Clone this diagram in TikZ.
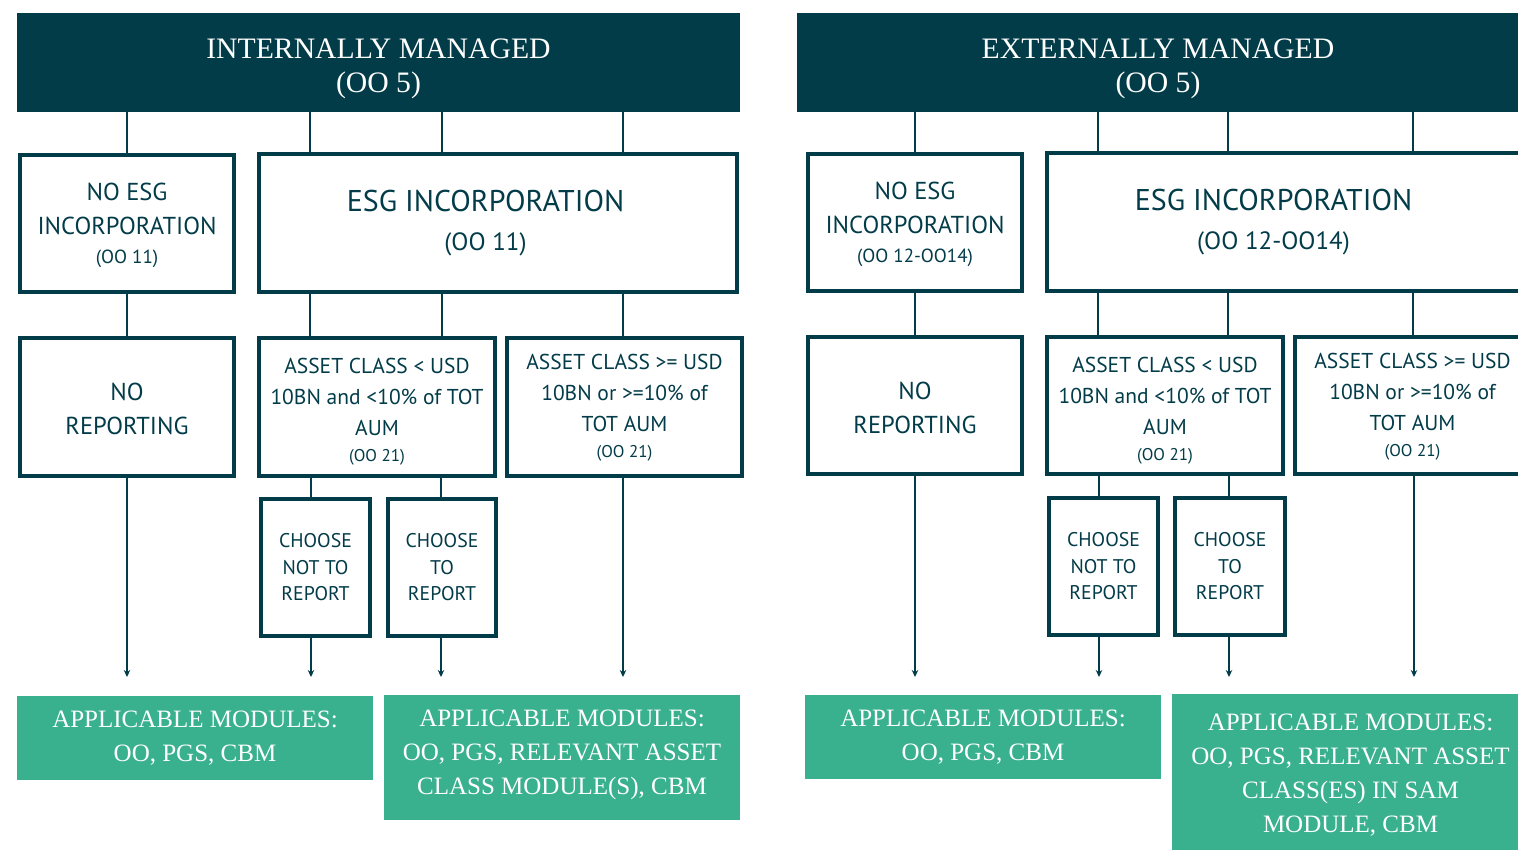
\documentclass[tikz,border=0pt]{standalone}
\usepackage{fontspec}
\setmainfont{Liberation Serif}
\newfontfamily\bxfont{PT Sans}
\usetikzlibrary{arrows.meta}
\definecolor{navy}{HTML}{033C49}
\definecolor{mint}{HTML}{3AB18E}
\newcommand\smalltxt[1]{{\fontsize{17}{27}\selectfont #1}}
\newcommand\midtxt[1]{{\fontsize{19}{27}\selectfont #1}}
\newcommand\esgsub[1]{{\fontsize{25}{39}\selectfont #1}}
\begin{document}
\begin{tikzpicture}[x=1pt,y=-1pt,
 hdr/.style={fill=navy, inner sep=0pt},
 hdrtxt/.style={text=white, inner sep=0pt, align=center, font=\fontsize{29.7}{34}\selectfont},
 box/.style={draw=navy, line width=4pt, fill=white, inner sep=0pt},
 boxtxt/.style={text=navy, inner sep=0pt, align=center, font=\bxfont\fontsize{24.5}{34}\selectfont},
 bigtxt/.style={boxtxt, font=\bxfont\fontsize{30}{39}\selectfont},
 asttxt/.style={boxtxt, font=\bxfont\fontsize{21.5}{31}\selectfont},
 chtxt/.style={boxtxt, font=\bxfont\fontsize{19.8}{26.5}\selectfont},
 grn/.style={fill=mint, inner sep=0pt},
 grntxt/.style={text=white, inner sep=0pt, align=center, font=\fontsize{25}{34}\selectfont},
 conn/.style={draw=navy, line width=1.8pt},
 arr/.style={conn, -{Stealth[length=7pt,width=6.5pt]}}
]
\useasboundingbox (0,0) rectangle (1518,850);

% ---------- LEFT: INTERNALLY MANAGED ----------
\node[hdr, minimum width=723, minimum height=99, label={[hdrtxt,yshift=-6pt]center:INTERNALLY MANAGED\\(OO 5)}] (hdrL) at (378.5,62.5) {};
\node[box, minimum width=214, minimum height=137, label={[boxtxt,yshift=-1.5pt]center:NO ESG\\INCORPORATION\\[-5pt]\midtxt{(OO 11)}}] (noesgL) at (127,223.5) {};
\node[box, minimum width=478, minimum height=138, label={[bigtxt,xshift=-12.5pt]center:ESG INCORPORATION\\\esgsub{(OO 11)}}] (esgL) at (498,223) {};
\node[box, minimum width=214, minimum height=138, label={[boxtxt,yshift=-2pt]center:NO\\REPORTING}] (norepL) at (127,407) {};
\node[box, minimum width=236, minimum height=138, label={[asttxt,yshift=-5pt]center:ASSET CLASS < USD\\10BN and <10\% of TOT\\AUM\\[-5pt]\smalltxt{(OO 21)}}] (ltL) at (377,407) {};
\node[box, minimum width=235, minimum height=138, label={[asttxt,yshift=-1pt]center:ASSET CLASS >= USD\\10BN or >=10\% of\\TOT AUM\\[-5pt]\smalltxt{(OO 21)}}] (geL) at (624.5,407) {};
\node[box, minimum width=109, minimum height=137, label={[chtxt]center:CHOOSE\\NOT TO\\REPORT}] (cnL) at (315.5,567.5) {};
\node[box, minimum width=108, minimum height=137, label={[chtxt]center:CHOOSE\\TO\\REPORT}] (ctL) at (442,567.5) {};
\node[grn, minimum width=356, minimum height=84, label={[grntxt]center:APPLICABLE MODULES:\\OO, PGS, CBM}] (gaL) at (195,738) {};
\node[grn, minimum width=356, minimum height=125, label={[grntxt,yshift=3pt]center:APPLICABLE MODULES:\\OO, PGS, RELEVANT ASSET\\CLASS MODULE(S), CBM}] (gbL) at (562,757.5) {};

\coordinate (eL1) at (127,677);
\coordinate (eL2) at (311,677);
\coordinate (eL3) at (441,677);
\coordinate (eL4) at (623,677);

\draw[conn] (hdrL.south -| noesgL.north) -- (noesgL.north);
\draw[conn] (hdrL.south -| 310,0) -- (esgL.north -| 310,0);
\draw[conn] (hdrL.south -| 442,0) -- (esgL.north -| 442,0);
\draw[conn] (hdrL.south -| 623,0) -- (esgL.north -| 623,0);
\draw[conn] (noesgL.south) -- (norepL.north);
\draw[conn] (esgL.south -| 310,0) -- (ltL.north -| 310,0);
\draw[conn] (esgL.south -| 442,0) -- (ltL.north -| 442,0);
\draw[conn] (esgL.south -| 623,0) -- (geL.north -| 623,0);
\draw[conn] (ltL.south -| 311,0) -- (cnL.north -| 311,0);
\draw[conn] (ltL.south -| 441,0) -- (ctL.north -| 441,0);
\draw[arr] (norepL.south) -- (eL1);
\draw[arr] (cnL.south -| eL2) -- (eL2);
\draw[arr] (ctL.south -| eL3) -- (eL3);
\draw[arr] (geL.south -| eL4) -- (eL4);

% ---------- RIGHT: EXTERNALLY MANAGED ----------
\node[hdr, minimum width=722, minimum height=99, label={[hdrtxt,yshift=-6pt]center:EXTERNALLY MANAGED\\(OO 5)}] (hdrR) at (1158,62.5) {};
\node[box, minimum width=214, minimum height=137, label={[boxtxt,yshift=-1.5pt]center:NO ESG\\INCORPORATION\\[-5pt]\midtxt{(OO 12-OO14)}}] (noesgR) at (915,222.5) {};
\node[box, minimum width=478, minimum height=138, label={[bigtxt,xshift=-12.5pt]center:ESG INCORPORATION\\\esgsub{(OO 12-OO14)}}] (esgR) at (1286,222) {};
\node[box, minimum width=214, minimum height=137, label={[boxtxt,yshift=-2pt]center:NO\\REPORTING}] (norepR) at (915,405.5) {};
\node[box, minimum width=236, minimum height=137, label={[asttxt,yshift=-5pt]center:ASSET CLASS < USD\\10BN and <10\% of TOT\\AUM\\[-5pt]\smalltxt{(OO 21)}}] (ltR) at (1165,405.5) {};
\node[box, minimum width=235, minimum height=137, label={[asttxt,yshift=-1pt]center:ASSET CLASS >= USD\\10BN or >=10\% of\\TOT AUM\\[-5pt]\smalltxt{(OO 21)}}] (geR) at (1412.5,405.5) {};
\node[box, minimum width=109, minimum height=137, label={[chtxt]center:CHOOSE\\NOT TO\\REPORT}] (cnR) at (1103.5,566.5) {};
\node[box, minimum width=110, minimum height=137, label={[chtxt]center:CHOOSE\\TO\\REPORT}] (ctR) at (1230,566.5) {};
\node[grn, minimum width=356, minimum height=84, label={[grntxt]center:APPLICABLE MODULES:\\OO, PGS, CBM}] (gaR) at (983,737) {};
\node[grn, minimum width=357, minimum height=156, label={[grntxt,yshift=-3pt]center:APPLICABLE MODULES:\\OO, PGS, RELEVANT ASSET\\CLASS(ES) IN SAM\\MODULE, CBM}] (gbR) at (1350.5,772) {};

\coordinate (eR1) at (915,677);
\coordinate (eR2) at (1099,677);
\coordinate (eR3) at (1229,677);
\coordinate (eR4) at (1414,677);

\draw[conn] (hdrR.south -| noesgR.north) -- (noesgR.north);
\draw[conn] (hdrR.south -| 1098,0) -- (esgR.north -| 1098,0);
\draw[conn] (hdrR.south -| 1228,0) -- (esgR.north -| 1228,0);
\draw[conn] (hdrR.south -| 1413,0) -- (esgR.north -| 1413,0);
\draw[conn] (noesgR.south) -- (norepR.north);
\draw[conn] (esgR.south -| 1098,0) -- (ltR.north -| 1098,0);
\draw[conn] (esgR.south -| 1228,0) -- (ltR.north -| 1228,0);
\draw[conn] (esgR.south -| 1413,0) -- (geR.north -| 1413,0);
\draw[conn] (ltR.south -| 1099,0) -- (cnR.north -| 1099,0);
\draw[conn] (ltR.south -| 1229,0) -- (ctR.north -| 1229,0);
\draw[arr] (norepR.south) -- (eR1);
\draw[arr] (cnR.south -| eR2) -- (eR2);
\draw[arr] (ctR.south -| eR3) -- (eR3);
\draw[arr] (geR.south -| eR4) -- (eR4);
\end{tikzpicture}
\end{document}
